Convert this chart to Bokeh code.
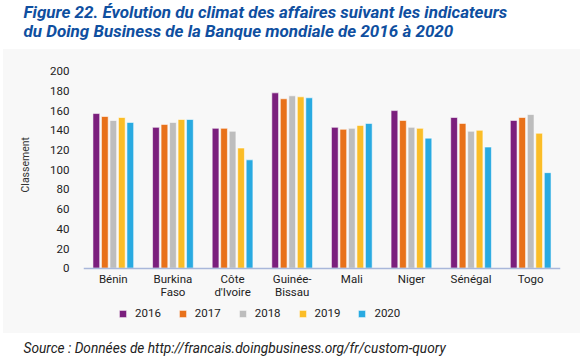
from bokeh.plotting import figure
from bokeh.models import (FactorRange, Range1d, FixedTicker, Legend, LegendItem,
                          Title, ColumnDataSource)
from bokeh.transform import dodge
from bokeh.embed import file_html
from bokeh.resources import INLINE

countries = ["Bénin", "Burkina\nFaso", "Côte\nd'Ivoire", "Guinée-\nBissau",
             "Mali", "Niger", "Sénégal", "Togo"]
years = ["2016", "2017", "2018", "2019", "2020"]
v2016 = [157, 143, 142, 178, 143, 160, 153, 150]
v2017 = [154, 146, 142, 172, 141, 150, 147, 153]
v2018 = [150, 148, 139, 175, 142, 143, 139, 156]
v2019 = [153, 151, 122, 174, 145, 142, 140, 137]
v2020 = [148, 151, 110, 173, 147, 132, 123, 97]
colors = ["#7b1f7d", "#e8711a", "#bdbdbd", "#fbbd27", "#29aae1"]
y_ticks = [0, 20, 40, 60, 80, 100, 120, 140, 160, 180, 200]

title_1 = "Figure 22. Évolution du climat des affaires suivant les indicateurs"
title_2 = "du Doing Business de la Banque mondiale de 2016 à 2020"
y_title = "Classement"
source_text = "Source : Données de http://francais.doingbusiness.org/fr/custom-quory"

FONT = "Roboto"

src = ColumnDataSource(dict(country=countries, y2016=v2016, y2017=v2017,
                            y2018=v2018, y2019=v2019, y2020=v2020))

# layout in pixels: frame from y=38 to y=339; value 0 at y=267, value 200 at y=68
FRAME_TOP, FRAME_BOTTOM, ZERO_PX, TOP_PX = 38, 339, 267, 68
ppu = (ZERO_PX - TOP_PX) / 200
y_end = 200 + (TOP_PX - FRAME_TOP) / ppu
y_start = -(FRAME_BOTTOM - ZERO_PX) / ppu

p = figure(width=584, height=357, output_backend="svg", toolbar_location=None,
           x_range=FactorRange(*countries, range_padding=0),
           y_range=Range1d(y_start, y_end),
           min_border_left=63, min_border_right=24, min_border_top=FRAME_TOP,
           min_border_bottom=357 - FRAME_BOTTOM)
p.background_fill_color = None
p.border_fill_color = None
p.outline_line_color = None
p.grid.grid_line_color = None
p.styles = {"background": "linear-gradient(#f8f8f8, #f8f8f8) 3px 49px / 577px 284px no-repeat, #ffffff"}

offsets = [-0.285, -0.1425, 0, 0.1425, 0.285]
items = []
for yr, off, col in zip(years, offsets, colors):
    r = p.vbar(x=dodge("country", off, range=p.x_range), top="y" + yr, width=0.113,
               source=src, fill_color=col, line_color="white", line_width=0.8,
               line_alpha=0.7)
    items.append(LegendItem(label=yr, renderers=[r]))

p.yaxis.ticker = FixedTicker(ticks=y_ticks)
p.yaxis.axis_line_color = None
p.yaxis.major_tick_line_color = None
p.yaxis.minor_tick_line_color = None
p.yaxis.major_label_standoff = 8
p.yaxis.major_label_text_font = FONT
p.yaxis.major_label_text_font_size = "11.5px"
p.yaxis.major_label_text_color = "#222222"

p.xaxis.fixed_location = 0
p.xaxis.axis_line_color = "#a9b7da"
p.xaxis.axis_line_width = 1.5
p.xaxis.major_tick_line_color = None
p.xaxis.minor_tick_line_color = None
p.xaxis.major_label_standoff = -2
p.xaxis.major_label_text_font = FONT
p.xaxis.major_label_text_font_size = "11.5px"
p.xaxis.major_label_text_color = "#222222"
p.xaxis.major_label_text_line_height = 0.89

legend = Legend(items=items, orientation="horizontal", location=(35, 19),
                glyph_width=9, glyph_height=9, label_standoff=8, spacing=17,
                padding=0, margin=0, border_line_color=None,
                background_fill_alpha=0, label_text_font=FONT,
                label_text_font_size="11.5px", label_text_color="#222222")
p.add_layout(legend)

p.add_layout(Title(text=y_title, text_font=FONT, text_font_style="normal",
                   text_font_size="10.5px", text_color="#333333", align="left",
                   offset=147, standoff=32, vertical_align="bottom"), "left")

p.add_layout(Title(text=source_text, text_font=FONT, text_font_style="italic",
                   text_font_size="13.7px", text_color="#222222", align="left",
                   offset=-60, standoff=0, vertical_align="top"), "below")

p.add_layout(Title(text=title_1 + "\n" + title_2, text_font=FONT,
                   text_font_style="bold italic", text_line_height=0.96,
                   text_font_size="17px", text_color="#0f4fa0", align="left",
                   offset=-60, standoff=0, vertical_align="bottom"), "above")

open("out.html", "w").write(file_html(p, INLINE))
